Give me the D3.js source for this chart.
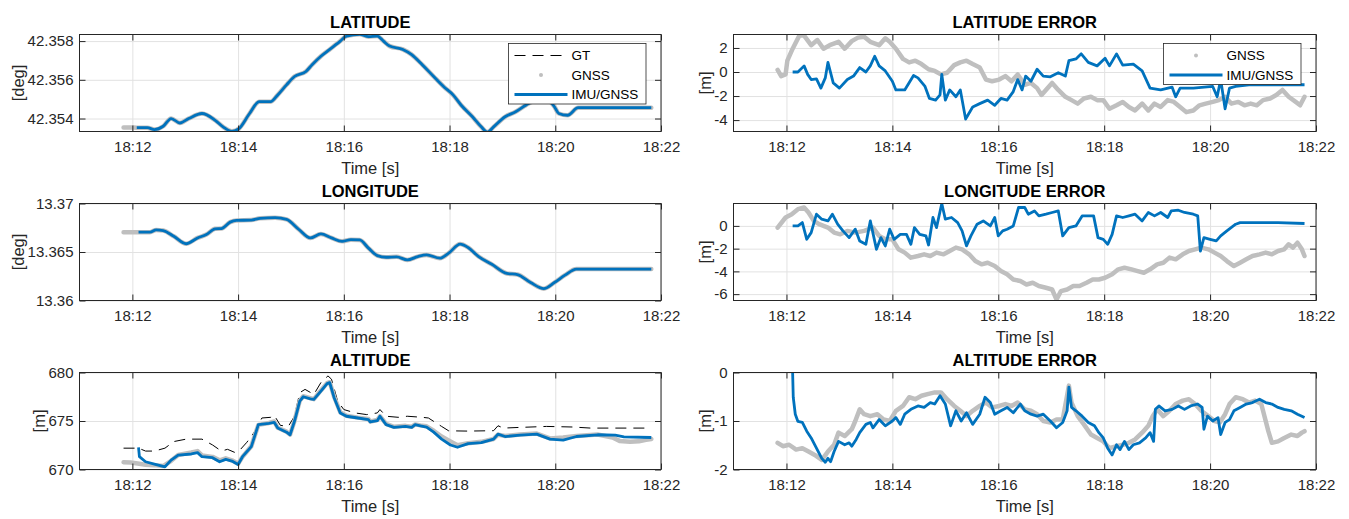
<!DOCTYPE html>
<html>
<head>
<meta charset="utf-8">
<script src="https://cdn.jsdelivr.net/npm/d3@7"></script>
<style>
  body { margin: 0; background: #fff; }
  text { font-family: "Liberation Sans", Arial, sans-serif; }
</style>
</head>
<body>
<script>
// time values are seconds after 18:11:00
const latGnss = [[50, 42.35354], [58, 42.35354], [65, 42.35353], [77, 42.35353], [85, 42.35343], [95, 42.35360], [104, 42.35400], [114, 42.35377], [124, 42.35400], [139, 42.35426], [154, 42.35391], [163, 42.35357], [173, 42.35334], [181, 42.35348], [193, 42.35426], [204, 42.35487], [217, 42.35487], [225, 42.35522], [235, 42.35574], [244, 42.35617], [257, 42.35643], [264, 42.35678], [274, 42.35722], [284, 42.35757], [296, 42.35800], [303, 42.35826], [318, 42.35835], [328, 42.35823], [338, 42.35826], [345, 42.35800], [352, 42.35774], [367, 42.35757], [377, 42.35730], [389, 42.35678], [402, 42.35617], [414, 42.35562], [424, 42.35522], [433, 42.35470], [446, 42.35409], [456, 42.35357], [463, 42.35330], [470, 42.35357], [483, 42.35409], [495, 42.35435], [507, 42.35470], [519, 42.35496], [530, 42.35500], [539, 42.35461], [544, 42.35426], [554, 42.35417], [566, 42.35456], [649, 42.35456]]
const latImu = [[65, 42.35353], [77, 42.35353], [85, 42.35343], [95, 42.35360], [104, 42.35400], [114, 42.35377], [124, 42.35400], [139, 42.35426], [154, 42.35391], [163, 42.35357], [173, 42.35334], [181, 42.35348], [193, 42.35426], [204, 42.35487], [217, 42.35487], [225, 42.35522], [235, 42.35574], [244, 42.35617], [257, 42.35643], [264, 42.35678], [274, 42.35722], [284, 42.35757], [296, 42.35800], [303, 42.35826], [318, 42.35835], [328, 42.35823], [338, 42.35826], [345, 42.35800], [352, 42.35774], [367, 42.35757], [377, 42.35730], [389, 42.35678], [402, 42.35617], [414, 42.35562], [424, 42.35522], [433, 42.35470], [446, 42.35409], [456, 42.35357], [463, 42.35330], [470, 42.35357], [483, 42.35409], [495, 42.35435], [507, 42.35470], [519, 42.35496], [530, 42.35500], [539, 42.35461], [544, 42.35426], [554, 42.35417], [566, 42.35456], [649, 42.35456]]

const lonGnss = [[50, 13.36704], [60, 13.36704], [67, 13.36704], [80, 13.36704], [87, 13.36728], [95, 13.36721], [107, 13.36662], [121, 13.36585], [134, 13.36645], [144, 13.36680], [154, 13.36739], [161, 13.36742], [171, 13.36808], [178, 13.36826], [195, 13.36829], [205, 13.36847], [222, 13.36854], [235, 13.36836], [249, 13.36732], [262, 13.36645], [274, 13.36686], [286, 13.36645], [298, 13.36610], [308, 13.36627], [318, 13.36624], [328, 13.36540], [338, 13.36463], [348, 13.36446], [360, 13.36450], [372, 13.36418], [384, 13.36453], [394, 13.36470], [409, 13.36436], [419, 13.36488], [432, 13.36582], [441, 13.36547], [453, 13.36453], [468, 13.36373], [485, 13.36279], [497, 13.36268], [512, 13.36185], [527, 13.36122], [539, 13.36185], [551, 13.36261], [564, 13.36324], [649, 13.36324]]
const lonImu = [[67, 13.36704], [80, 13.36704], [87, 13.36728], [95, 13.36721], [107, 13.36662], [121, 13.36585], [134, 13.36645], [144, 13.36680], [154, 13.36739], [161, 13.36742], [171, 13.36808], [178, 13.36826], [195, 13.36829], [205, 13.36847], [222, 13.36854], [235, 13.36836], [249, 13.36732], [262, 13.36645], [274, 13.36686], [286, 13.36645], [298, 13.36610], [308, 13.36627], [318, 13.36624], [328, 13.36540], [338, 13.36463], [348, 13.36446], [360, 13.36450], [372, 13.36418], [384, 13.36453], [394, 13.36470], [409, 13.36436], [419, 13.36488], [432, 13.36582], [441, 13.36547], [453, 13.36453], [468, 13.36373], [485, 13.36279], [497, 13.36268], [512, 13.36185], [527, 13.36122], [539, 13.36185], [551, 13.36261], [564, 13.36324], [649, 13.36324]]

const altGt = [[50, 672.2], [67, 672.2], [75, 671.9], [85, 671.9], [97, 672.2], [107, 672.88], [121, 673.13], [139, 673.13], [151, 672.53], [161, 671.9], [168, 672.08], [176, 671.77], [181, 671.9], [190, 672.81], [199, 673.92], [207, 675.31], [217, 675.38], [221, 675.59], [228, 674.55], [237, 674.44], [244, 675.49], [250, 677.92], [256, 678.26], [266, 677.74], [274, 678.96], [282, 679.65], [286, 679.31], [293, 677.05], [300, 676.18], [313, 675.83], [326, 675.66], [338, 675.83], [341, 676.18], [348, 675.49], [362, 675.38], [372, 675.49], [389, 675.38], [396, 675.31], [411, 674.44], [419, 673.99], [440, 673.96], [470, 674.0], [475, 674.51], [481, 674.27], [500, 674.34], [530, 674.44], [560, 674.38], [580, 674.27], [649, 674.27]]
const altGnss = [[50, 670.75], [58, 670.72], [66, 670.62], [75, 670.5], [85, 670.45], [95, 670.35], [104, 670.9], [112, 671.5], [127, 671.75], [134, 671.9], [139, 671.45], [151, 671.3], [159, 670.95], [166, 671.15], [173, 670.95], [180, 670.6], [185, 671.3], [195, 672.4], [203, 674.6], [215, 674.8], [221, 674.95], [225, 674.3], [235, 673.9], [239, 673.6], [244, 675.0], [250, 677.1], [254, 677.55], [262, 677.35], [266, 677.25], [274, 678.15], [281, 678.9], [284, 679.0], [289, 677.5], [296, 675.9], [303, 675.55], [316, 675.35], [328, 675.2], [330, 674.95], [338, 675.1], [341, 675.5], [348, 674.7], [357, 674.4], [370, 674.5], [377, 674.4], [381, 674.65], [387, 674.55], [394, 674.45], [402, 674.0], [411, 673.4], [421, 672.9], [429, 672.5], [441, 672.7], [456, 672.85], [470, 673.15], [475, 673.6], [483, 673.45], [500, 673.6], [519, 673.7], [534, 673.2], [549, 673.3], [564, 673.45], [588, 673.6], [605, 673.3], [613, 672.95], [625, 672.85], [635, 672.9], [643, 673.05], [649, 673.15]]
const altImu = [[67, 672.29], [68, 671.32], [75, 670.8], [85, 670.56], [97, 670.28], [104, 670.97], [112, 671.49], [127, 671.6], [134, 671.74], [139, 671.32], [151, 671.22], [159, 670.8], [166, 671.04], [173, 670.87], [180, 670.52], [185, 671.32], [195, 672.36], [203, 674.62], [215, 674.76], [221, 674.86], [225, 674.27], [235, 673.85], [239, 673.58], [244, 674.97], [250, 677.05], [254, 677.5], [262, 677.29], [266, 677.22], [274, 678.09], [281, 678.85], [284, 678.96], [289, 677.4], [296, 675.83], [303, 675.49], [316, 675.31], [328, 675.14], [330, 674.9], [338, 675.03], [341, 675.49], [348, 674.62], [357, 674.34], [370, 674.44], [377, 674.34], [381, 674.62], [387, 674.51], [394, 674.38], [402, 673.85], [411, 673.13], [421, 672.53], [429, 672.29], [441, 672.67], [456, 672.78], [470, 673.13], [475, 673.65], [483, 673.4], [500, 673.54], [519, 673.65], [534, 673.13], [549, 673.02], [564, 673.4], [588, 673.58], [608, 673.54], [618, 673.37], [649, 673.3]]

const latErrGnss = [[50, 0.17], [54, -0.34], [59, -0.2], [61, 0.94], [67, 1.94], [75, 3.09], [80, 3.03], [88, 2.23], [95, 2.66], [102, 1.94], [109, 2.23], [119, 2.51], [126, 1.94], [134, 2.57], [141, 2.86], [148, 2.94], [155, 2.51], [165, 2.23], [172, 2.8], [177, 2.51], [184, 1.94], [192, 1.09], [199, 0.8], [206, 0.94], [213, 0.66], [221, 0.23], [228, 0.09], [235, -0.2], [242, -0.06], [250, 0.57], [257, 0.8], [264, 0.94], [271, 0.66], [279, 0.37], [286, -0.63], [293, -0.77], [301, -0.63], [308, -0.34], [315, -0.77], [322, -0.2], [330, -1.06], [337, -0.91], [344, -1.34], [349, -1.91], [354, -1.49], [361, -0.91], [368, -1.49], [376, -2.06], [383, -2.34], [390, -2.63], [397, -2.2], [405, -2.06], [412, -2.34], [419, -2.34], [426, -3.06], [434, -2.77], [441, -2.49], [448, -2.91], [455, -3.2], [463, -2.63], [470, -3.2], [477, -2.63], [484, -2.91], [492, -2.34], [499, -2.49], [506, -2.91], [513, -3.34], [521, -3.2], [528, -2.77], [535, -2.63], [543, -2.49], [550, -2.34], [557, -2.06], [564, -2.63], [572, -2.49], [579, -2.77], [586, -2.63], [593, -2.77], [600, -2.34], [608, -2.2], [615, -1.91], [622, -1.49], [629, -2.06], [637, -2.49], [642, -2.77], [647, -2.06]]
const latErrImu = [[67, 0], [73, 0], [80, 0.51], [84, -0.2], [88, -0.63], [94, -0.57], [99, -1.34], [104, -0.49], [107, 0.8], [113, -0.91], [120, -1.34], [129, -0.63], [136, -0.34], [143, 0.37], [150, 0], [155, 0.51], [160, 1.31], [165, 0.51], [172, 0.09], [180, -0.77], [184, -1.49], [194, -1.49], [204, -0.29], [209, -0.49], [217, -1.2], [222, -2.2], [229, -2.34], [234, -1.91], [236, -0.2], [240, -2.34], [245, -1.49], [252, -2.06], [257, -1.49], [263, -3.91], [271, -2.91], [279, -2.63], [288, -2.34], [296, -2.77], [303, -2.2], [310, -2.34], [317, -1.63], [322, -0.63], [327, -1.49], [331, -0.34], [337, -0.77], [344, 0.23], [351, -0.34], [359, -0.4], [368, -0.06], [376, -0.34], [380, 0.94], [388, 1.09], [394, 1.51], [402, 0.8], [412, 0.51], [421, 1.14], [426, 0.51], [434, 1.51], [441, 0.57], [453, 0.66], [463, 0.09], [472, -1.34], [484, -1.49], [497, -1.26], [501, -2.06], [506, -1.34], [521, -1.34], [543, -1.2], [548, -2.06], [552, -0.63], [557, -3.06], [562, -1.34], [569, -1.2], [584, -1.06], [647, -1.06]]

const lonErrGnss = [[50, -0.15], [59, 0.74], [66, 1.03], [73, 1.47], [80, 1.62], [85, 1.18], [91, 0.44], [97, 0.15], [107, -0.15], [114, -0.59], [121, -0.74], [129, -0.44], [138, -0.59], [148, -0.44], [158, -0.15], [165, -0.88], [172, -1.18], [180, -1.18], [187, -2.06], [194, -2.35], [201, -2.79], [209, -2.65], [216, -2.5], [223, -2.65], [230, -2.35], [238, -2.5], [245, -2.21], [252, -1.91], [259, -2.06], [267, -2.5], [274, -3.09], [281, -3.38], [288, -3.24], [296, -3.53], [303, -3.97], [310, -4.26], [317, -4.71], [325, -4.85], [332, -5.15], [339, -5.0], [346, -5.29], [354, -5.44], [361, -5.59], [366, -6.47], [371, -5.74], [378, -5.59], [385, -5.29], [392, -5.29], [400, -5.0], [407, -4.71], [414, -4.71], [421, -4.56], [429, -4.26], [436, -3.82], [443, -3.68], [451, -3.82], [458, -3.97], [465, -4.12], [472, -3.82], [480, -3.38], [487, -3.24], [494, -2.79], [501, -2.94], [509, -2.5], [516, -2.21], [523, -2.06], [530, -1.91], [538, -2.06], [545, -2.35], [552, -2.65], [559, -3.09], [567, -3.53], [574, -3.24], [581, -2.94], [588, -2.65], [596, -2.5], [603, -2.35], [610, -2.5], [617, -2.21], [624, -2.06], [629, -1.62], [634, -1.91], [639, -1.47], [644, -2.06], [647, -2.65]]
const lonErrImu = [[67, 0], [73, 0], [78, 0.29], [83, -1.18], [88, -0.59], [94, 1.03], [100, 0.59], [107, 0.44], [112, 1.03], [118, 0.15], [124, -0.44], [131, -1.03], [138, -0.29], [143, -1.32], [150, -1.62], [155, 0.44], [162, -2.06], [167, -1.03], [172, -1.76], [177, -0.29], [182, -1.18], [189, -0.74], [196, -0.74], [201, -1.62], [205, -0.15], [211, -0.74], [218, -0.88], [221, -1.68], [226, 0.74], [230, -0.15], [236, 1.97], [240, 0.59], [247, 0.74], [254, 0.29], [259, -0.44], [264, -1.76], [269, -0.88], [276, 0.15], [283, 0.44], [291, 0], [296, 0.74], [300, -0.88], [305, -0.44], [310, -0.29], [317, 0], [323, 1.62], [330, 1.62], [334, 1.03], [341, 1.32], [346, 0.88], [354, 1.03], [361, 1.18], [368, 1.32], [373, -0.88], [380, -0.15], [388, 0], [395, 0.88], [402, 0.88], [408, 0.88], [413, -1.03], [419, -1.18], [424, -1.62], [429, -0.74], [434, 0.88], [441, 0.74], [448, 0.88], [455, 1.03], [463, 0.44], [470, 1.18], [477, 0.88], [484, 1.18], [492, 0.74], [496, 1.32], [504, 1.38], [511, 1.18], [521, 1.03], [526, 0.88], [529, -2.21], [533, -1.03], [540, -1.18], [547, -1.32], [552, -0.88], [559, -0.44], [569, 0.15], [574, 0.29], [617, 0.29], [647, 0.21]]

const altErrGnss = [[50, -1.45], [56, -1.52], [63, -1.49], [71, -1.59], [78, -1.56], [85, -1.63], [92, -1.7], [100, -1.8], [107, -1.63], [114, -1.49], [119, -1.24], [126, -1.31], [134, -1.17], [138, -1.0], [143, -0.76], [148, -0.86], [155, -0.9], [163, -0.86], [170, -0.97], [177, -1.0], [184, -0.79], [192, -0.69], [199, -0.51], [206, -0.55], [213, -0.48], [221, -0.44], [228, -0.41], [235, -0.41], [242, -0.55], [250, -0.69], [257, -0.79], [264, -0.9], [271, -0.79], [279, -0.69], [286, -0.62], [293, -0.72], [301, -0.69], [308, -0.65], [315, -0.69], [322, -0.62], [330, -0.76], [337, -0.79], [344, -0.86], [351, -1.0], [359, -1.03], [366, -0.97], [373, -0.97], [380, -0.27], [383, -0.62], [390, -0.9], [397, -1.07], [405, -1.28], [412, -1.35], [419, -1.42], [426, -1.56], [434, -1.52], [441, -1.49], [448, -1.45], [455, -1.38], [463, -1.24], [470, -1.1], [475, -0.9], [480, -0.76], [487, -0.9], [494, -0.79], [501, -0.65], [509, -0.58], [516, -0.55], [523, -0.65], [530, -0.79], [538, -0.9], [545, -1.0], [551, -1.03], [557, -0.86], [562, -0.65], [569, -0.51], [577, -0.55], [584, -0.62], [591, -0.58], [598, -0.65], [606, -1.21], [610, -1.45], [617, -1.42], [624, -1.35], [632, -1.28], [639, -1.31], [644, -1.24], [647, -1.21]]
const altErrImu = [[67, 0], [67.7, -0.51], [70, -0.86], [73, -1.01], [78, -1.03], [83, -1.21], [88, -1.35], [94, -1.56], [100, -1.77], [104, -1.85], [107, -1.77], [110, -1.84], [114, -1.63], [119, -1.42], [126, -1.49], [131, -1.45], [134, -1.52], [139, -1.38], [143, -1.24], [150, -1.07], [155, -1.03], [158, -1.14], [165, -0.97], [172, -1.1], [180, -1.0], [184, -0.93], [189, -1.07], [194, -0.86], [201, -0.76], [209, -0.69], [216, -0.72], [223, -0.62], [228, -0.65], [234, -0.48], [240, -0.65], [246, -1.1], [252, -0.79], [258, -1.0], [264, -0.83], [271, -1.07], [279, -0.86], [285, -0.51], [291, -0.62], [296, -0.86], [303, -0.79], [310, -0.72], [317, -0.83], [325, -0.65], [330, -0.79], [337, -0.86], [344, -0.9], [351, -0.86], [359, -1.0], [366, -1.14], [373, -1.03], [378, -0.79], [380, -0.3], [383, -0.72], [388, -0.79], [395, -0.9], [402, -1.03], [409, -1.1], [414, -1.24], [419, -1.35], [424, -1.56], [429, -1.7], [434, -1.49], [438, -1.59], [443, -1.42], [448, -1.59], [453, -1.49], [460, -1.45], [467, -1.35], [472, -1.24], [476, -1.42], [478, -0.76], [482, -0.69], [489, -0.79], [497, -0.76], [504, -0.69], [511, -0.76], [518, -0.69], [526, -0.65], [531, -0.72], [533, -1.17], [537, -0.9], [543, -1.0], [549, -0.93], [552, -1.28], [557, -1.03], [562, -0.97], [567, -0.79], [574, -0.72], [581, -0.65], [588, -0.62], [596, -0.55], [603, -0.62], [610, -0.65], [617, -0.72], [624, -0.76], [632, -0.79], [639, -0.86], [647, -0.93]]

const latTicks = [42.354, 42.356, 42.358]
const lonTicks = [13.36, 13.365, 13.37]
const altTicks = [670, 675, 680]
const latErrTicks = [-4, -2, 0, 2]
const lonErrTicks = [-6, -4, -2, 0]
const altErrTicks = [-2, -1, 0]

const width = 1349
const height = 519
const cols = [{ x0: 79.5, x1: 661 }, { x0: 733.5, x1: 1316 }]
const rowTops = [34.5, 203.5, 372.5]
const plotH = 97
const base = new Date(2024, 0, 1, 18, 11, 0)
const toDate = (s) => new Date(base.getTime() + s * 1000)

const styles = {
    gt: { stroke: "#000", width: 1, dash: "11,7", label: "GT" },
    gnss: { stroke: "#bfbfbf", width: 4.5, dash: null, label: "GNSS" },
    imu: { stroke: "#0072bd", width: 2.8, dash: null, label: "IMU/GNSS" },
}

const panels = [
    { col: 0, row: 0, title: "LATITUDE", ylabel: "[deg]", domain: [42.35333, 42.35834], ticks: latTicks,
      fmt: d3.format(".3f"), smooth: true, series: { gnss: latGnss, imu: latImu }, legend: ["gt", "gnss", "imu"] },
    { col: 0, row: 1, title: "LONGITUDE", ylabel: "[deg]", domain: [13.36, 13.37], ticks: lonTicks,
      fmt: (d) => String(d), smooth: true, series: { gnss: lonGnss, imu: lonImu } },
    { col: 0, row: 2, title: "ALTITUDE", ylabel: "[m]", domain: [670, 680], ticks: altTicks,
      fmt: (d) => String(d), series: { gt: altGt, gnss: altGnss, imu: altImu } },
    { col: 1, row: 0, title: "LATITUDE ERROR", ylabel: "[m]", domain: [-4.95, 3.12], ticks: latErrTicks,
      fmt: (d) => String(d), series: { gnss: latErrGnss, imu: latErrImu }, legend: ["gnss", "imu"] },
    { col: 1, row: 1, title: "LONGITUDE ERROR", ylabel: "[m]", domain: [-6.56, 1.97], ticks: lonErrTicks,
      fmt: (d) => String(d), series: { gnss: lonErrGnss, imu: lonErrImu } },
    { col: 1, row: 2, title: "ALTITUDE ERROR", ylabel: "[m]", domain: [-2, 0], ticks: altErrTicks,
      fmt: (d) => String(d), series: { gnss: altErrGnss, imu: altErrImu } },
]

const svg = d3.select("body")
    .append("svg")
    .attr("width", width)
    .attr("height", height)

panels.forEach((p, i) => {
    const c = cols[p.col]
    const top = rowTops[p.row]
    const bottom = top + plotH
    const x = d3.scaleTime().domain([toDate(0), toDate(660)]).range([c.x0, c.x1])
    const y = d3.scaleLinear().domain(p.domain).range([bottom, top])
    const xTicks = x.ticks(d3.timeMinute.every(2))
    const g = svg.append("g")

    // grid
    const grid = g.append("g").attr("class", "grid")
    grid.append("g")
        .attr("transform", `translate(0,${bottom})`)
        .call(d3.axisBottom(x).tickValues(xTicks).tickSize(-plotH).tickFormat(""))
    grid.append("g")
        .attr("transform", `translate(${c.x0},0)`)
        .call(d3.axisLeft(y).tickValues(p.ticks).tickSize(-(c.x1 - c.x0)).tickFormat(""))
    grid.selectAll(".domain").remove()
    grid.selectAll("line").attr("stroke", "#e2e2e2")

    // data
    svg.append("clipPath").attr("id", `clip${i}`)
        .append("rect").attr("x", c.x0).attr("y", top).attr("width", c.x1 - c.x0).attr("height", plotH)
    const line = d3.line()
        .x((d) => x(toDate(d[0])))
        .y((d) => y(d[1]))
        .curve(p.smooth ? d3.curveMonotoneX : d3.curveLinear)
    const data = g.append("g").attr("clip-path", `url(#clip${i})`)
    ;["gt", "gnss", "imu"].forEach((k) => {
        if (!p.series[k]) return
        const s = styles[k]
        data.append("path")
            .attr("d", line(p.series[k]))
            .attr("fill", "none")
            .attr("stroke", s.stroke)
            .attr("stroke-width", s.width)
            .attr("stroke-linejoin", "round")
            .attr("stroke-linecap", k === "gnss" ? "round" : "butt")
            .attr("stroke-dasharray", s.dash)
    })

    // axes with inward ticks on every side
    const ax = g.append("g").attr("class", "axes")
    ax.append("g")
        .attr("transform", `translate(0,${bottom})`)
        .call(d3.axisBottom(x).tickValues(xTicks).tickSize(-6).tickPadding(10).tickFormat(d3.timeFormat("%H:%M")))
    ax.append("g")
        .attr("transform", `translate(0,${top})`)
        .call(d3.axisTop(x).tickValues(xTicks).tickSize(-6).tickFormat(""))
    const yl = ax.append("g")
        .attr("transform", `translate(${c.x0},0)`)
        .call(d3.axisLeft(y).tickValues(p.ticks).tickSize(-6).tickPadding(6).tickFormat(p.fmt))
    ax.append("g")
        .attr("transform", `translate(${c.x1},0)`)
        .call(d3.axisRight(y).tickValues(p.ticks).tickSize(-6).tickFormat(""))
    ax.selectAll(".domain").remove()
    ax.selectAll(".tick line").attr("stroke", "#262626")
    ax.selectAll(".tick text")
        .attr("fill", "#262626")
        .style("font-size", "15px")
        .style("font-family", "'Liberation Sans', Arial, sans-serif")

    g.append("rect")
        .attr("x", c.x0).attr("y", top)
        .attr("width", c.x1 - c.x0).attr("height", plotH)
        .attr("fill", "none").attr("stroke", "#262626").attr("stroke-width", 1)

    // labels
    g.append("text")
        .attr("x", (c.x0 + c.x1) / 2).attr("y", top - 6.5)
        .attr("text-anchor", "middle")
        .style("font-size", "16.5px").style("font-weight", "bold")
        .attr("fill", "#000")
        .text(p.title)
    g.append("text")
        .attr("x", (c.x0 + c.x1) / 2).attr("y", bottom + 42)
        .attr("text-anchor", "middle")
        .style("font-size", "16.5px")
        .attr("fill", "#262626")
        .text("Time [s]")
    const bb = yl.node().getBBox()
    const lx = c.x0 + bb.x - 9
    g.append("text")
        .attr("transform", `translate(${lx},${(top + bottom) / 2}) rotate(-90)`)
        .attr("text-anchor", "middle")
        .attr("dy", "0.35em")
        .style("font-size", "16.5px")
        .attr("fill", "#262626")
        .text(p.ylabel)

    // legend
    if (p.legend) {
        const lw = 137.5
        const lh = 12 + (p.legend.length - 1) * 19.5 + 9.5
        const lx0 = c.x1 - 15 - lw
        const ly0 = top + 9
        const lg = g.append("g")
        lg.append("rect")
            .attr("x", lx0).attr("y", ly0).attr("width", lw).attr("height", lh)
            .attr("fill", "#fff").attr("stroke", "#262626").attr("stroke-width", 0.8)
        p.legend.forEach((k, j) => {
            const s = styles[k]
            const cy = ly0 + 12 + j * 19.5
            if (k === "gnss") {
                lg.append("circle")
                    .attr("cx", lx0 + 32.5).attr("cy", cy).attr("r", 2)
                    .attr("fill", s.stroke)
            } else {
                lg.append("line")
                    .attr("x1", lx0 + 6).attr("x2", lx0 + 59).attr("y1", cy).attr("y2", cy)
                    .attr("stroke", s.stroke).attr("stroke-width", s.width)
                    .attr("stroke-dasharray", s.dash)
            }
            lg.append("text")
                .attr("x", lx0 + 63).attr("y", cy).attr("dy", "0.36em")
                .style("font-size", "13.5px")
                .attr("fill", "#000")
                .text(s.label)
        })
    }
})
</script>
</body>
</html>
